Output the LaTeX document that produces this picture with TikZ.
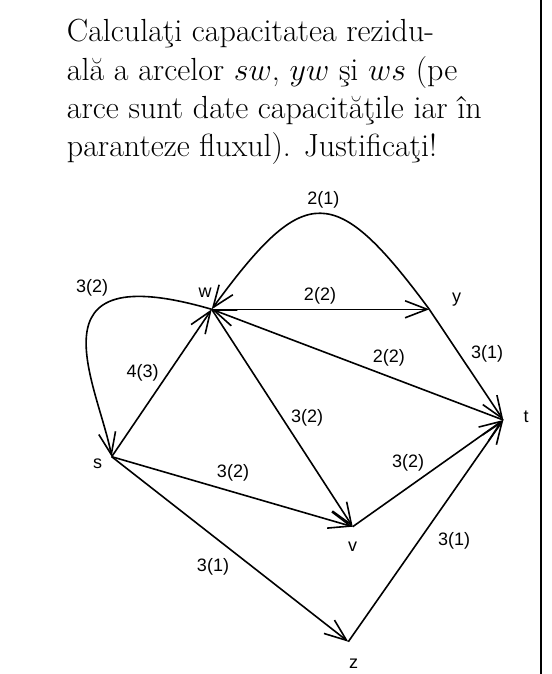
\RequirePackage{fix-cm}
\documentclass[tikz,border=0pt]{standalone}
\usepackage{fontspec}
\newfontfamily\lblfont{Liberation Sans}
\usetikzlibrary{arrows.meta}
\tikzset{
  edge/.style={line width=1.6pt, -{Straight Barb[length=22pt,width=17pt]}},
  lbl/.style={font=\lblfont\fontsize{18}{20}\selectfont, inner sep=0pt},
  vname/.style={font=\lblfont\fontsize{18}{20}\selectfont, inner sep=0pt},
}
\begin{document}
\begin{tikzpicture}[x=1pt,y=-1pt]
\useasboundingbox (0,0) rectangle (551,674);
\draw[line width=1.2pt] (541,0) coordinate (b1) -- (541,674) coordinate (b2);
\node[anchor=base west, align=left, inner sep=0pt, font=\fontsize{32}{38.3}\selectfont] (title) at (66.7,156.7)
  {Calcula\c{t}i capacitatea rezidu-\\ al\u{a} a arcelor $sw$, $yw$ \c{s}i $ws$ (pe\\ arce sunt date capacit\u{a}\c{t}ile iar \^{\i}n\\ paranteze fluxul). Justifica\c{t}i!};
% vertices
\coordinate (w) at (211.7,309.3);
\coordinate (y) at (429.3,309.3);
\coordinate (t) at (503.3,420);
\coordinate (s) at (111.7,456.7);
\coordinate (v) at (352.7,526.7);
\coordinate (z) at (348.3,641.7);
\node[vname] (lw) at (205,293) {w};
\node[vname] (ly) at (456.7,300) {y};
\node[vname] (lt) at (526,417) {t};
\node[vname] (ls) at (97.5,464) {s};
\node[vname] (lv) at (352.5,547) {v};
\node[vname] (lz) at (353.7,664) {z};
% edges
\draw[edge] (y) .. controls (334.7,181.6) and (305,181.6) .. (w);
\draw[edge] (w) -- (y);
\draw[edge] (w) .. controls (25,255) and (98,385) .. (s);
\draw[edge] (s) -- (w);
\draw[edge] (t) -- (w);
\draw[edge] (y) -- (t);
\draw[edge] (w) -- (v);
\draw[edge] (s) -- (v);
\draw[edge] (v) -- (t);
\draw[edge] (s) -- (z);
\draw[edge] (z) -- (t);
% labels
\node[lbl] (e1) at (323.3,200) {2(1)};
\node[lbl] (e2) at (320,296) {2(2)};
\node[lbl] (e3) at (92.2,287.5) {3(2)};
\node[lbl] (e4) at (142.7,372.5) {4(3)};
\node[lbl] (e5) at (388.8,357.5) {2(2)};
\node[lbl] (e6) at (487,354) {3(1)};
\node[lbl] (e7) at (307,418) {3(2)};
\node[lbl] (e8) at (233,472.5) {3(2)};
\node[lbl] (e9) at (408,462.5) {3(2)};
\node[lbl] (e10) at (213,566.7) {3(1)};
\node[lbl] (e11) at (454,540.8) {3(1)};
\end{tikzpicture}
\end{document}
